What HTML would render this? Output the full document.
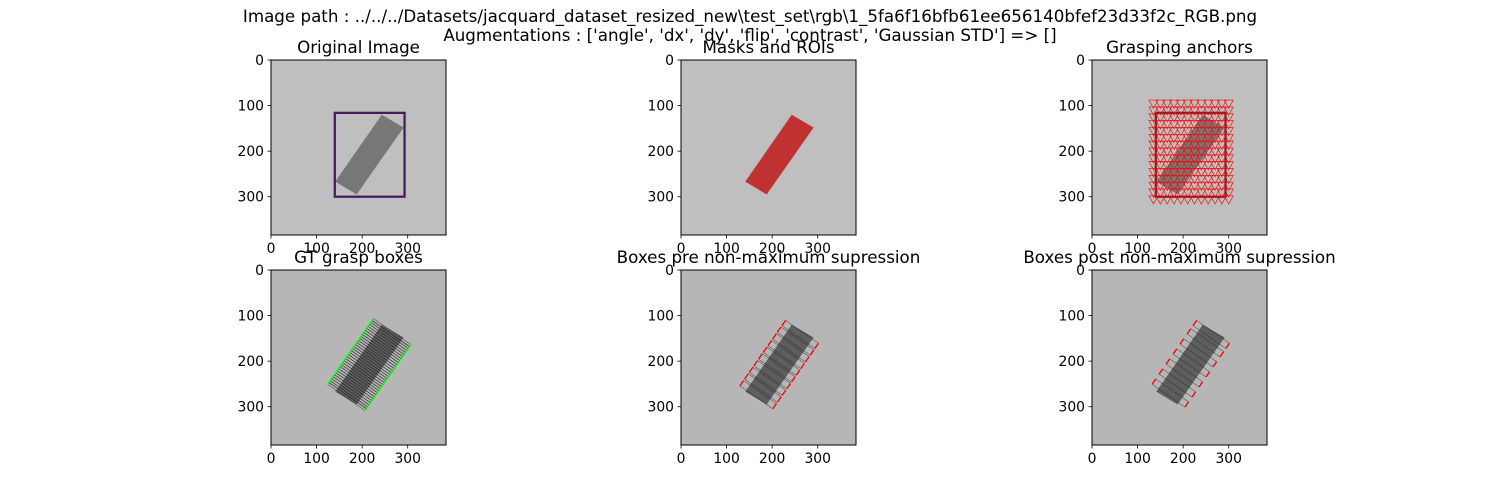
<!DOCTYPE html>
<html><head><meta charset="utf-8">
<style>
html,body{margin:0;padding:0;background:#fff;}
svg{display:block;font-family:"DejaVu Sans","Liberation Sans",sans-serif;}
</style></head>
<body>
<svg id="fig" width="1500" height="500" viewBox="0 0 1500 500" xmlns="http://www.w3.org/2000/svg">
<text x="750" y="22" font-size="16.7" text-anchor="middle">Image path : ../../../Datasets/jacquard_dataset_resized_new\test_set\rgb\1_5fa6f16bfb61ee656140bfef23d33f2c_RGB.png</text>
<text x="750" y="41" font-size="16.7" text-anchor="middle">Augmentations : ['angle', 'dx', 'dy', 'flip', 'contrast', 'Gaussian STD'] =&gt; []</text>
</svg>
<script>
const ticks=[0,100,200,300];
const imgSize=384;
const titles=["Original Image","Masks and ROIs","Grasping anchors","GT grasp boxes","Boxes pre non-maximum supression","Boxes post non-maximum supression"];
const objPoly=[[243,120],[291,148],[188,295],[141,267]];
const roiBox=[140,116,293,300];
const anchorCols=[135,150,165,180,195,210,225,240,255,270,285,300];
const anchorRows=[95,110,125,140,155,170,185,200,215,230,245,260,275,290,305];
const gtT=[-0.95,-0.9,-0.84,-0.78,-0.72,-0.66,-0.6,-0.54,-0.48,-0.42,-0.36,-0.3,-0.24,-0.18,-0.12,-0.06,0,0.06,0.12,0.18,0.24,0.3,0.36,0.42,0.48,0.54,0.6,0.66,0.72,0.78,0.84,0.9,0.95];
const preT=[-0.9,-0.7,-0.5,-0.3,-0.1,0.1,0.3,0.5,0.7,0.9];
const postT=[-0.85,-0.55,-0.25,0.05,0.35,0.65,0.9];
const colX=[271,681,1092], rowY=[60,270], axW=175;
const S=axW/imgSize;
const svg=document.getElementById('fig');
const NS="http://www.w3.org/2000/svg";
function mk(tag,attrs,parent){const e=document.createElementNS(NS,tag);for(const k in attrs)e.setAttribute(k,attrs[k]);parent.appendChild(e);return e;}
const cx=(objPoly[0][0]+objPoly[2][0])/2, cy=(objPoly[0][1]+objPoly[2][1])/2;
const lx=(objPoly[0][0]-objPoly[3][0])/2+(objPoly[1][0]-objPoly[2][0])/2, ly=(objPoly[0][1]-objPoly[3][1])/2+(objPoly[1][1]-objPoly[2][1])/2;
const L=Math.hypot(lx,ly), ux=lx/L, uy=ly/L, vx=-uy, vy=ux;
function pts(a){return a.map(p=>p.join(',')).join(' ');}
for(let i=0;i<6;i++){
  const r=Math.floor(i/3), c=i%3, X=colX[c], Y=rowY[r];
  const ax=mk('g',{},svg);
  
  
  const t=mk('text',{x:X+axW/2,y:Y-7,'font-size':16.7,'text-anchor':'middle'},ax);
  t.textContent=titles[i];
  
  
  const g=mk('g',{transform:`translate(${X},${Y}) scale(${S})`},ax);
  const dark=r==1;
  const bg=mk('rect',{x:0,y:0,width:imgSize,height:imgSize,fill:dark?'#b6b6b6':'#bfbfbf'},g);
  
  
  const ob=mk('polygon',{points:pts(objPoly),fill:i==1?'#c03232':(dark?'#5e5e5e':'#777777')},g);
  
  
  if(i==0||i==2){
    const rb=mk('rect',{x:roiBox[0],y:roiBox[1],width:roiBox[2]-roiBox[0],height:roiBox[3]-roiBox[1],fill:'none',stroke:i==0?'#4a1a5a':'#6a2a30','stroke-width':5},g);
    
    
  }
  if(i==2){
    anchorRows.forEach(ay=>anchorCols.forEach(axx=>{
      const p=mk('polygon',{points:pts([[axx-10,ay-7],[axx+10,ay-7],[axx,ay+11]]),fill:'none',stroke:'#ff0000','stroke-width':1.4},g);
      
      
    }));
  }
  if(i>=3){
    const arr=i==3?gtT:(i==4?preT:postT);
    const hw=i==3?50:44, hh=i==3?3:7;
    arr.forEach(tt=>{
      const px=cx+ux*tt*L*0.5, py=cy+uy*tt*L*0.5;
      const a=[[px-vx*hw-ux*hh,py-vy*hw-uy*hh],[px+vx*hw-ux*hh,py+vy*hw-uy*hh],[px+vx*hw+ux*hh,py+vy*hw+uy*hh],[px-vx*hw+ux*hh,py-vy*hw+uy*hh]];
      const gr=mk('g',{},g);
      
      
      const edge=i==3?'#00ff00':'#ff0000';
      mk('line',{x1:a[0][0],y1:a[0][1],x2:a[1][0],y2:a[1][1],stroke:'#222','stroke-width':1},gr);
      mk('line',{x1:a[3][0],y1:a[3][1],x2:a[2][0],y2:a[2][1],stroke:'#222','stroke-width':1},gr);
      mk('line',{x1:a[1][0],y1:a[1][1],x2:a[2][0],y2:a[2][1],stroke:edge,'stroke-width':3},gr);
      mk('line',{x1:a[3][0],y1:a[3][1],x2:a[0][0],y2:a[0][1],stroke:edge,'stroke-width':3},gr);
    });
  }
  const fr=mk('rect',{x:X,y:Y,width:axW,height:axW,fill:'none',stroke:'#000','stroke-width':1},ax);
  
  
  ticks.forEach(v=>{
    const px=X+v*S, py=Y+v*S;
    mk('line',{x1:px,y1:Y+axW,x2:px,y2:Y+axW+3.5,stroke:'#000','stroke-width':0.8},ax);
    const xl=mk('text',{x:px,y:Y+axW+18,'font-size':13.9,'text-anchor':'middle'},ax);
    xl.textContent=v;
    
    
    mk('line',{x1:X,y1:py,x2:X-3.5,y2:py,stroke:'#000','stroke-width':0.8},ax);
    const yl=mk('text',{x:X-7,y:py+5,'font-size':13.9,'text-anchor':'end'},ax);
    yl.textContent=v;
    
    
  });
}
</script>
</body></html>
